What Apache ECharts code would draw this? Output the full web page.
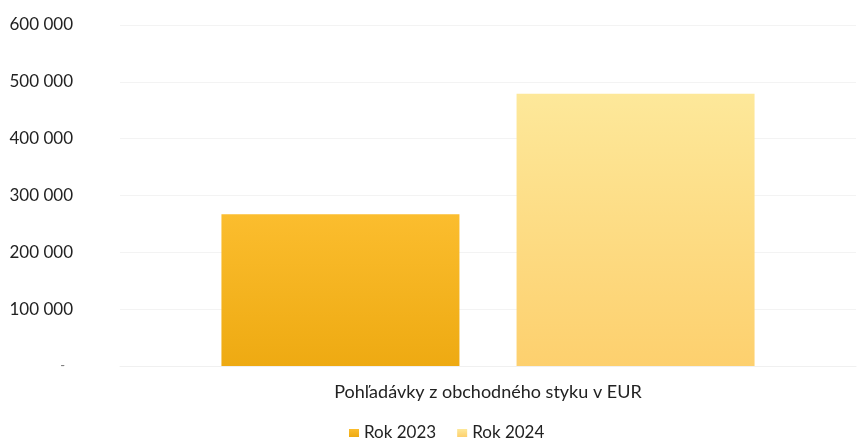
<!DOCTYPE html>
<html><head><meta charset="utf-8">
<script src="https://cdn.jsdelivr.net/npm/echarts@6/dist/echarts.min.js"></script>
<style>html,body{margin:0;padding:0;background:#fff}#c{width:866px;height:442px}</style>
</head><body><div id="c"></div>
<script>
const categories = ['Pohľadávky z obchodného styku v EUR'];
const seriesNames = ['Rok 2023', 'Rok 2024'];
const values2023 = [267000];
const values2024 = [479000];
const yTicks = [0, 100000, 200000, 300000, 400000, 500000, 600000];

const FONT = 'Lato';
function fmt(v){ if(v===0) return '{d|-}'; return String(v).replace(/\B(?=(\d{3})+(?!\d))/g,' '); }
function grad(a,b){ return new echarts.graphic.LinearGradient(0,0,0,1,[{offset:0,color:a},{offset:1,color:b}]); }

const chart = echarts.init(document.getElementById('c'), null, {renderer:'canvas'});
chart.setOption({
  animation:false,
  textStyle:{fontFamily:FONT},
  grid:{left:120,right:10,top:25,bottom:76},
  legend:{
    data:seriesNames, top:424, left:349, padding:0, itemWidth:10, itemHeight:8, itemGap:21, icon:'rect',
    textStyle:{fontFamily:FONT,fontSize:17,color:'#222',lineHeight:18}
  },
  xAxis:{
    type:'category', data:categories,
    axisLine:{show:true,lineStyle:{color:'#f0f0f0'}}, axisTick:{show:false},
    axisLabel:{fontFamily:FONT,fontSize:18,color:'#222',margin:17}
  },
  yAxis:{
    type:'value', min:yTicks[0], max:yTicks[yTicks.length-1], interval:100000,
    axisLine:{show:false}, axisTick:{show:false},
    splitLine:{lineStyle:{color:'#f3f3f3'}},
    axisLabel:{fontFamily:FONT,fontSize:17,color:'#222',margin:47,formatter:fmt,
      rich:{d:{fontFamily:FONT,fontSize:13,color:'#777',padding:[0,8,0,0]}}}
  },
  series:[
    {name:seriesNames[0], type:'bar', data:values2023, barWidth:238, barGap:'24%',
     itemStyle:{color:grad('#fbbd2e','#eeaa12')}},
    {name:seriesNames[1], type:'bar', data:values2024, barWidth:238,
     itemStyle:{color:grad('#fde89a','#fdd06e')}}
  ]
});
</script></body></html>
